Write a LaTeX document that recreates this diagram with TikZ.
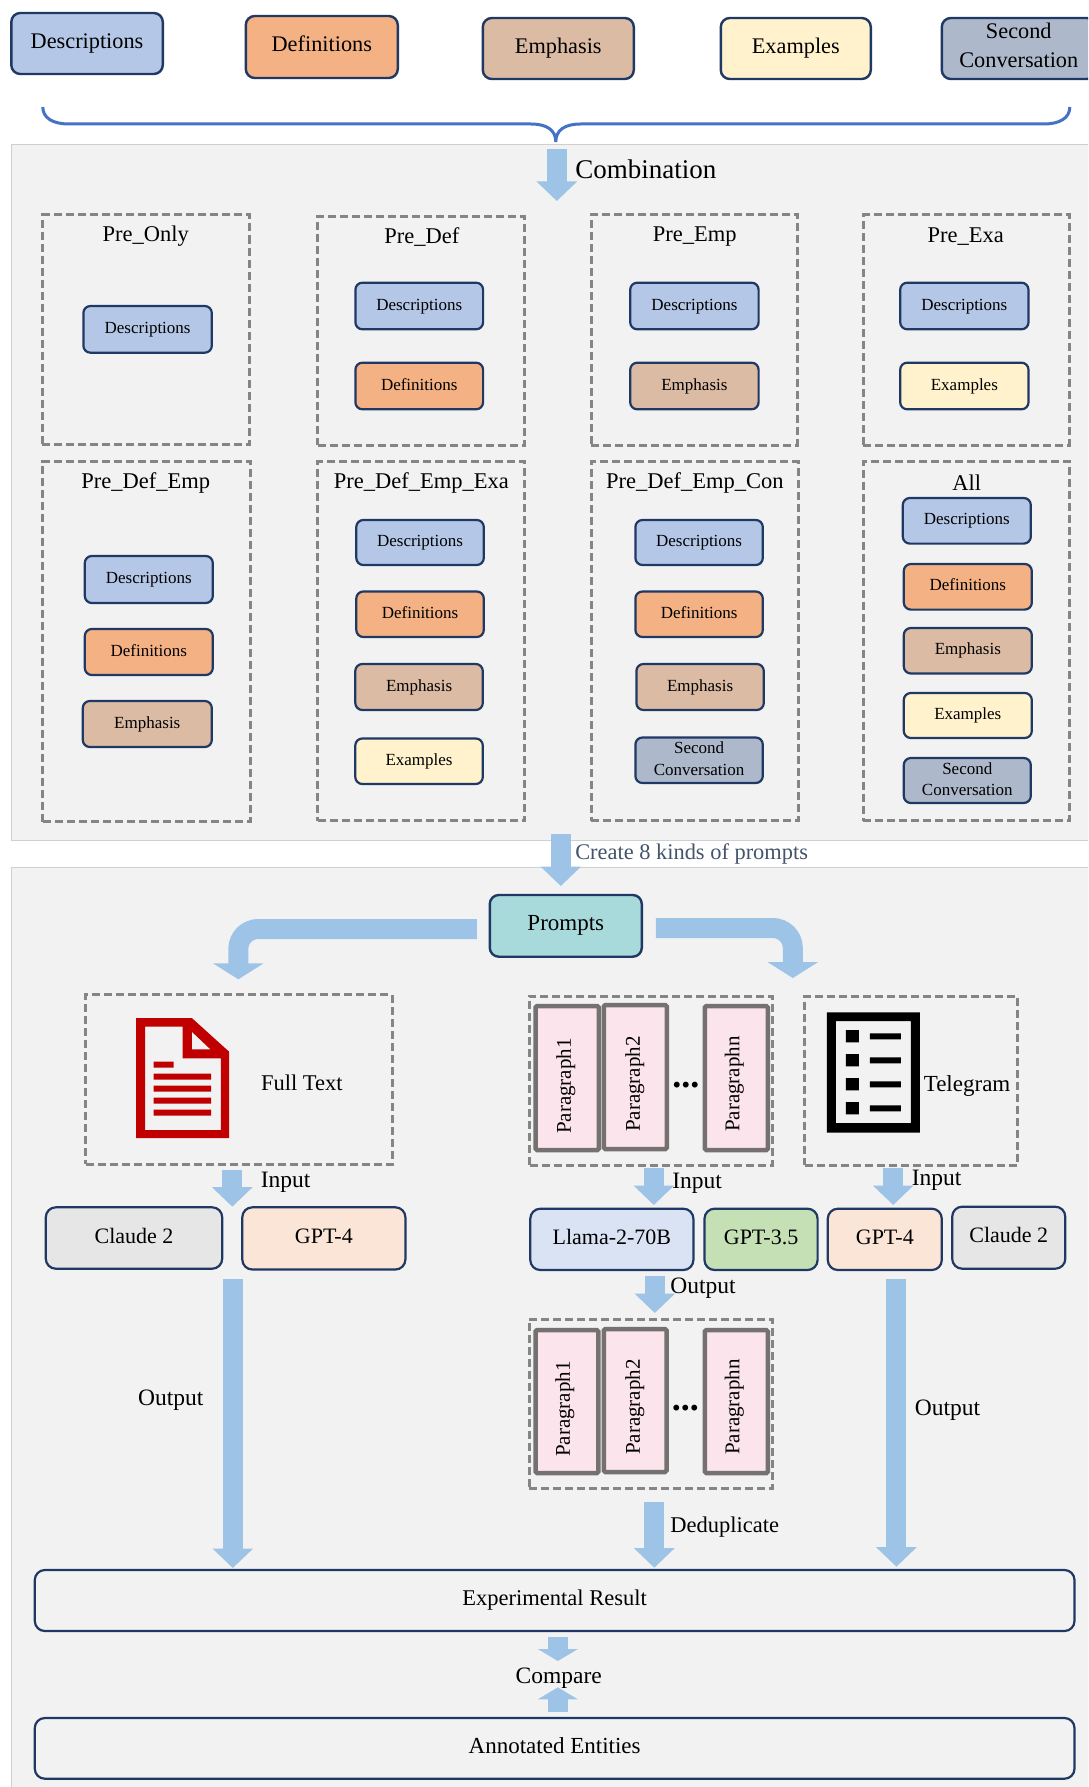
\documentclass[tikz,border=0pt]{standalone}
\usepackage{fontspec}
\setmainfont{Liberation Serif}
\usetikzlibrary{arrows.meta}
\definecolor{panelbg}{HTML}{F2F2F2}
\definecolor{panelline}{HTML}{CFCFCF}
\definecolor{navy}{HTML}{1F3864}
\definecolor{dashgray}{HTML}{858585}
\definecolor{parline}{HTML}{767171}
\definecolor{arrowblue}{HTML}{9DC3E6}
\definecolor{bracecol}{HTML}{4472C4}
\definecolor{descfill}{HTML}{B4C7E7}
\definecolor{deffill}{HTML}{F4B183}
\definecolor{empfill}{HTML}{DBBBA4}
\definecolor{exafill}{HTML}{FFF2CC}
\definecolor{secfill}{HTML}{ADB9CA}
\definecolor{promptfill}{HTML}{A8DADC}
\definecolor{clfill}{HTML}{E7E6E6}
\definecolor{gptfill}{HTML}{FBE5D6}
\definecolor{llfill}{HTML}{DAE3F3}
\definecolor{g35fill}{HTML}{C5E0B4}
\definecolor{parfill}{HTML}{FCE4EC}
\definecolor{createcol}{HTML}{44546A}
\definecolor{docred}{HTML}{C00000}
\newcommand{\fsz}[1]{\fontsize{#1}{#1}\selectfont}
\newcommand{\bx}[7][]{\node[#1] (#2) at ({(#3+#5)/2},{(#4+#6)/2}) [minimum width={(#5-#3)*1pt},minimum height={(#6-#4)*1pt}] {#7};}
\tikzset{
 base/.style={inner sep=0pt,outer sep=0pt,align=center,text=black},
 bigbox/.style={base,draw=navy,line width=2.4pt,rounded corners=9pt,font=\fsz{22.3},text height=14pt,text depth=4pt},
 smallbox/.style={base,draw=navy,line width=2.2pt,rounded corners=7pt,font=\fsz{17},text height=11.5pt,text depth=3.5pt},
 twoline/.style={text height=,text depth=3pt},
 modelbox/.style={base,draw=navy,line width=2.2pt,rounded corners=10pt,font=\fsz{22},text height=15pt,text depth=5pt},
 dashbox/.style={base,draw=dashgray,line width=3pt,dash pattern=on 8pt off 4pt},
 parbox/.style={base,draw=parline,line width=4.5pt,rounded corners=1.5pt,fill=parfill},
 partext/.style={base,rotate=90,font=\fsz{21}},
 title/.style={base,font=\fsz{22.5}},
 label/.style={base,font=\fsz{23.5},anchor=west},
 shaft/.style={draw=arrowblue,line width=20pt},
 blockarrow/.style={shaft,-{Triangle[width=39.5pt,length=19.5pt]}},
 bentarrow/.style={shaft,rounded corners=20pt,-{Triangle[width=50pt,length=16pt]}},
 cmparrow/.style={shaft,-{Triangle[width=39.5pt,length=12pt]}},
}
\begin{document}
\begin{tikzpicture}[x=1pt,y=-1pt]
\clip (0,0) rectangle (1088,1787);
\fill[white] (0,0) rectangle (1088,1787);
\begin{scope}[xshift=0.8pt]
% panels
\draw[fill=panelbg,draw=panelline,line width=1pt] (10.5,145) rectangle (1100,840);
\draw[fill=panelbg,draw=panelline,line width=1pt] (10.5,867) rectangle (1100,1800);
% top row
\bx[bigbox,fill=descfill]{tDesc}{10.5}{13}{162}{74}{Descriptions}
\bx[bigbox,fill=deffill]{tDef}{245}{16}{397}{78}{Definitions}
\bx[bigbox,fill=empfill]{tEmp}{482}{18}{633}{79}{Emphasis}
\bx[bigbox,fill=exafill]{tExa}{720}{18}{870}{79}{Examples}
\bx[bigbox,fill=secfill,text height=,text depth=6pt,font=\fontsize{22.3}{29}\selectfont]{tSec}{941}{18}{1095}{79}{Second\\Conversation}
% brace
\draw[draw=bracecol,line width=3pt] (42,107) .. controls (42,118) and (52,124) .. (68,124) -- (530,124) .. controls (546,124) and (555,130) .. (555,142) .. controls (555,130) and (564,124) .. (580,124) -- (1043,124) .. controls (1059,124) and (1069,118) .. (1069,107);
% combination
\coordinate (cS) at (556,149); \coordinate (cE) at (556,201);
\draw[blockarrow] (cS) -- (cE);
\node[label,font=\fsz{27}] (combi) at (574.5,169) {Combination};
% dashed groups row 1
\bx[dashbox]{g1}{41.6}{215}{248.4}{444.7}{}
\bx[dashbox]{g2}{317}{216.7}{524}{445}{}
\bx[dashbox]{g3}{590.6}{215}{797}{445}{}
\bx[dashbox]{g4}{862.6}{215}{1068.7}{445}{}
\node[title] (t1) at (145,236.3) {Pre\_Only};
\node[title] (t2) at (421,237.3) {Pre\_Def};
\node[title] (t3) at (694,236.3) {Pre\_Emp};
\node[title] (t4) at (965,236.3) {Pre\_Exa};
\bx[smallbox,fill=descfill]{g1a}{82.6}{306}{211}{352.7}{Descriptions}
\bx[smallbox,fill=descfill]{g2a}{354.6}{282.7}{482.3}{329.3}{Descriptions}
\bx[smallbox,fill=deffill]{g2b}{354.6}{362.7}{482.3}{409.3}{Definitions}
\bx[smallbox,fill=descfill]{g3a}{629.4}{282.7}{757.8}{329.3}{Descriptions}
\bx[smallbox,fill=empfill]{g3b}{629.4}{362.7}{757.8}{409.3}{Emphasis}
\bx[smallbox,fill=descfill]{g4a}{899.4}{282.7}{1027.7}{329.3}{Descriptions}
\bx[smallbox,fill=exafill]{g4b}{899.4}{362.7}{1027.7}{409.3}{Examples}
% dashed groups row 2
\bx[dashbox]{g5}{42}{461.6}{249.6}{821.7}{}
\bx[dashbox]{g6}{317}{461.6}{524}{820.5}{}
\bx[dashbox]{g7}{590.5}{461.6}{797.5}{820.5}{}
\bx[dashbox]{g8}{862.5}{461.6}{1069}{820.5}{}
\node[title] (t5) at (145,483.3) {Pre\_Def\_Emp};
\node[title] (t6) at (420.5,483.3) {Pre\_Def\_Emp\_Exa};
\node[title] (t7) at (694,483.3) {Pre\_Def\_Emp\_Con};
\node[title] (t8) at (966,482.5) {All};
\bx[smallbox,fill=descfill]{g5a}{84}{556}{212}{603}{Descriptions}
\bx[smallbox,fill=deffill]{g5b}{84}{629}{212}{675}{Definitions}
\bx[smallbox,fill=empfill]{g5c}{82}{701}{211}{747}{Emphasis}
\bx[smallbox,fill=descfill]{g6a}{355.5}{520}{483}{565}{Descriptions}
\bx[smallbox,fill=deffill]{g6b}{355.5}{591.5}{483}{637}{Definitions}
\bx[smallbox,fill=empfill]{g6c}{354.5}{664}{482}{710}{Emphasis}
\bx[smallbox,fill=exafill]{g6d}{354.5}{738.5}{482}{784}{Examples}
\bx[smallbox,fill=descfill]{g7a}{634.6}{520}{762}{565}{Descriptions}
\bx[smallbox,fill=deffill]{g7b}{634.6}{591.5}{762}{637}{Definitions}
\bx[smallbox,fill=empfill]{g7c}{635.6}{664}{763}{710}{Emphasis}
\bx[smallbox,fill=secfill,twoline,font=\fontsize{17}{21.5}\selectfont]{g7d}{634.6}{737.5}{762}{783}{Second\\Conversation}
\bx[smallbox,fill=descfill]{g8a}{902}{498}{1030}{543.6}{Descriptions}
\bx[smallbox,fill=deffill]{g8b}{903}{564}{1031}{609.6}{Definitions}
\bx[smallbox,fill=empfill]{g8c}{903}{628}{1031}{673.5}{Emphasis}
\bx[smallbox,fill=exafill]{g8d}{903}{693}{1031}{738}{Examples}
\bx[smallbox,fill=secfill,twoline,font=\fontsize{17}{21}\selectfont]{g8e}{903}{758}{1030}{803}{Second\\Conversation}
% create arrow
\coordinate (crS) at (560,834); \coordinate (crE) at (560,886);
\draw[blockarrow] (crS) -- (crE);
\node[label,font=\fsz{22.4},text=createcol] (create) at (574.5,854) {Create 8 kinds of prompts};
% prompts
\bx[bigbox,fill=promptfill,font=\fsz{23}]{prompts}{489}{895}{641}{956.7}{Prompts}
\coordinate (blS) at (476,929); \coordinate (blE) at (237.5,979.3);
\draw[bentarrow] (blS) -| (blE);
\coordinate (brS) at (655,928); \coordinate (brE) at (792,978);
\draw[bentarrow] (brS) -| (brE);
% full text
\bx[dashbox]{fullbox}{84.7}{994.7}{391.4}{1164}{}
\fill[docred,even odd rule] (135.3,1018) -- (191,1018) -- (228.3,1051.7) -- (228.3,1138) -- (135.3,1138) -- cycle
 (144.3,1026.7) -- (181.8,1026.7) -- (181.8,1058.3) -- (220,1058.3) -- (220,1130) -- (144.3,1130) -- cycle
 (191,1031.7) -- (209.6,1049.3) -- (191,1049.3) -- cycle;
\fill[docred] (152.7,1061.7) rectangle (172.8,1067.7)
 (152.7,1073.7) rectangle (210.3,1079.7)
 (152.7,1085.7) rectangle (210.3,1091.7)
 (152.7,1097.7) rectangle (210.3,1103.7)
 (152.7,1109.7) rectangle (210.3,1115.7);
\node[base,font=\fsz{22.5}] (fulltext) at (301,1082.7) {Full Text};
% paragraphs in
\bx[dashbox]{parin}{528.8}{996}{771.7}{1165}{}
\bx[parbox]{pi1}{534.7}{1006}{598}{1150}{}
\bx[parbox]{pi2}{603}{1005}{666}{1149}{}
\bx[parbox]{pin}{704}{1006}{767}{1150}{}
\node[partext] (pi1t) at (565,1086) {Paragraph1};
\node[partext] (pi2t) at (634,1084) {Paragraph2};
\node[partext] (pint) at (733.5,1084) {Paragraphn};
\node[base,font=\fsz{36}\bfseries,anchor=base] (pidots) at (685,1087) {...};
% telegram
\bx[dashbox]{telbox}{804}{996}{1016.6}{1165}{}
\fill[black,even odd rule] (826,1012.3) rectangle (919,1132.7) (835,1021) rectangle (910,1123);
\fill[black] (845,1030) rectangle (858,1042.3) (845,1054) rectangle (858,1066.3) (845,1078) rectangle (858,1090.3) (845,1102) rectangle (858,1114.3)
 (869,1033.3) rectangle (900,1039.3) (869,1057.3) rectangle (900,1063.3) (869,1081.3) rectangle (900,1087.3) (869,1105.3) rectangle (900,1111.3);
\node[label,font=\fsz{23}] (teltext) at (923,1086) {Telegram};
% input arrows
\coordinate (i1S) at (231.5,1170); \coordinate (i1E) at (231.5,1206.7);
\draw[blockarrow] (i1S) -- (i1E);
\node[label] (i1t) at (260,1182.7) {Input};
\coordinate (i2S) at (653,1168); \coordinate (i2E) at (653,1205);
\draw[blockarrow] (i2S) -- (i2E);
\node[label] (i2t) at (671.5,1183) {Input};
\coordinate (i3S) at (892.4,1167.7); \coordinate (i3E) at (892.4,1205);
\draw[blockarrow] (i3S) -- (i3E);
\node[label] (i3t) at (911,1180) {Input};
% models
\bx[modelbox,fill=clfill]{m1}{45}{1207.3}{221.4}{1268.7}{Claude 2}
\bx[modelbox,fill=gptfill]{m2}{241.5}{1207.3}{404.6}{1269.5}{GPT-4}
\bx[modelbox,fill=llfill]{m3}{529.5}{1208.7}{692.6}{1270}{Llama-2-70B}
\bx[modelbox,fill=g35fill]{m4}{703.7}{1208.7}{816.8}{1270}{GPT-3.5}
\bx[modelbox,fill=gptfill]{m5}{827}{1208.7}{941}{1270}{GPT-4}
\bx[modelbox,fill=clfill]{m6}{951.4}{1206.7}{1064.5}{1268.7}{Claude 2}
% output arrows
\coordinate (o1S) at (232,1279); \coordinate (o1E) at (232,1568);
\draw[blockarrow] (o1S) -- (o1E);
\node[base,font=\fsz{23.5}] (o1t) at (170,1400) {Output};
\coordinate (o2S) at (654,1276); \coordinate (o2E) at (654,1313);
\draw[blockarrow] (o2S) -- (o2E);
\node[label] (o2t) at (669.5,1288) {Output};
\coordinate (o3S) at (895.6,1278.7); \coordinate (o3E) at (895.6,1566.7);
\draw[blockarrow] (o3S) -- (o3E);
\node[label] (o3t) at (914,1410) {Output};
% paragraphs out
\bx[dashbox]{parout}{528.5}{1319}{772}{1488}{}
\bx[parbox]{po1}{534.7}{1330}{597.5}{1473}{}
\bx[parbox]{po2}{603}{1329}{665.7}{1472}{}
\bx[parbox]{pon}{704}{1330}{767}{1473}{}
\node[partext] (po1t) at (564,1409) {Paragraph1};
\node[partext] (po2t) at (634,1407) {Paragraph2};
\node[partext] (pont) at (733.5,1407) {Paragraphn};
\node[base,font=\fsz{36}\bfseries,anchor=base] (podots) at (684.5,1410.5) {...};
% deduplicate
\coordinate (dS) at (653.5,1501.7); \coordinate (dE) at (653.5,1567.7);
\draw[blockarrow] (dS) -- (dE);
\node[label,font=\fsz{22.5}] (dt) at (669.5,1527) {Deduplicate};
% results
\bx[modelbox,font=\fsz{22.5}]{res}{34}{1570}{1073.7}{1631}{Experimental Result}
\bx[modelbox,font=\fsz{23}]{ann}{34}{1718}{1073.7}{1778.7}{Annotated Entities}
\coordinate (c1S) at (557,1637); \coordinate (c1E) at (557,1661);
\draw[cmparrow] (c1S) -- (c1E);
\coordinate (c2S) at (557,1711.7); \coordinate (c2E) at (557,1687.3);
\draw[cmparrow] (c2S) -- (c2E);
\node[base,font=\fsz{23.5}] (cmp) at (558,1678) {Compare};
\end{scope}
\end{tikzpicture}
\end{document}
